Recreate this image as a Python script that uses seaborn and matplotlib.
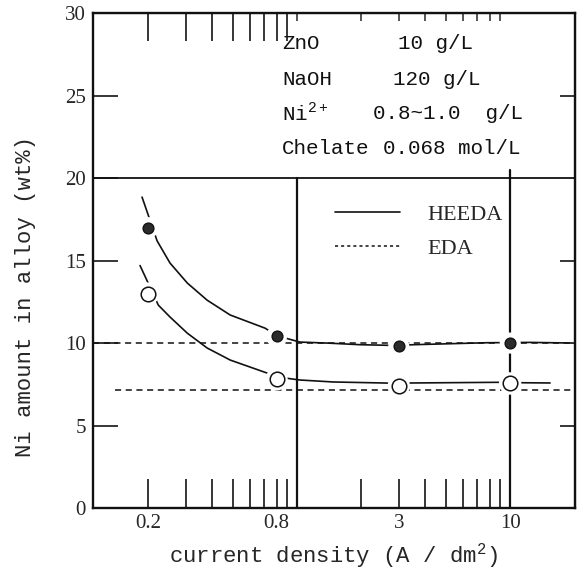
import numpy as np
import pandas as pd
import matplotlib
matplotlib.use("Agg")
import matplotlib.pyplot as plt
import seaborn as sns
from matplotlib.lines import Line2D
from matplotlib.ticker import FixedLocator, NullFormatter

# measured points (current density A/dm2, Ni wt%)
dens = [0.2, 0.8, 3, 10]
ni_filled = [17.0, 10.4, 9.8, 10.0]
ni_open = [13.0, 7.8, 7.4, 7.55]

# hand-drawn trend curves
curve_hi_x = [0.187, 0.22, 0.253, 0.305, 0.378, 0.485, 0.708, 0.8, 1.03, 1.38, 1.98, 3.0, 3.5, 7.8, 10, 12.4, 20]
curve_hi_y = [18.85, 16.2, 14.85, 13.64, 12.6, 11.7, 10.9, 10.45, 10.06, 10.0, 9.9, 9.85, 9.9, 10.02, 10.03, 10.04, 10.0]
curve_lo_x = [0.183, 0.223, 0.253, 0.305, 0.378, 0.485, 0.723, 0.8, 1.03, 1.48, 2.53, 3.0, 3.46, 8.7, 10, 15.4]
curve_lo_y = [14.7, 12.3, 11.58, 10.6, 9.7, 8.97, 8.18, 7.95, 7.76, 7.64, 7.58, 7.55, 7.58, 7.62, 7.6, 7.58]

# EDA dashed levels
eda_hi_x = [0.11, 20]
eda_hi_y = [10.0, 10.0]
eda_lo_x = [0.14, 20]
eda_lo_y = [7.15, 7.15]

sns.set_style("ticks")
plt.rcParams['font.family'] = ['Liberation Serif', 'DejaVu Serif']
plt.rcParams['mathtext.fontset'] = 'custom'
plt.rcParams['mathtext.rm'] = 'Liberation Mono'

fig = plt.figure(figsize=(5.81, 5.74), dpi=100)
ax = fig.add_axes([0.160, 0.115, 0.830, 0.862])
ax.set_xscale('log')

ink = '#111111'
sns.lineplot(x=curve_hi_x, y=curve_hi_y, ax=ax, color=ink, lw=1.2, sort=False, zorder=3)
sns.lineplot(x=curve_lo_x, y=curve_lo_y, ax=ax, color=ink, lw=1.2, sort=False, zorder=3)
sns.lineplot(x=eda_hi_x, y=eda_hi_y, ax=ax, color=ink, lw=1.1, zorder=3)
sns.lineplot(x=eda_lo_x, y=eda_lo_y, ax=ax, color=ink, lw=1.1, zorder=3)
for ln in ax.lines[2:4]:
    ln.set_linestyle((0, (4, 3)))

# frame lines at 20 wt% and at 1, 10 A/dm2
ax.axhline(20, color=ink, lw=1.3, zorder=2)
ax.axvline(1, ymin=0, ymax=20 / 30, color=ink, lw=1.6, zorder=2)
ax.axvline(10, ymin=0, ymax=20.5 / 30, color=ink, lw=1.6, zorder=2)

# white halos to break lines around the markers
sns.scatterplot(x=dens, y=ni_filled, ax=ax, s=230, color='white', edgecolor='none', zorder=4)
sns.scatterplot(x=dens, y=ni_open, ax=ax, s=260, color='white', edgecolor='none', zorder=4)
sns.scatterplot(x=dens, y=ni_filled, ax=ax, s=60, color='#2b2b2b', edgecolor=ink, linewidth=1, zorder=5)
sns.scatterplot(x=dens, y=ni_open, ax=ax, s=110, facecolor='white', edgecolor=ink, linewidth=1.1, zorder=5)

ax.set_xlim(0.11, 20.2)
ax.set_ylim(0, 30)

ax.xaxis.set_major_locator(FixedLocator(dens))
ax.set_xticklabels(['0.2', '0.8', '3', '10'])
ax.xaxis.set_minor_locator(FixedLocator([0.3, 0.4, 0.5, 0.6, 0.7, 0.9,
                                         2, 4, 5, 6, 7, 8, 9]))
ax.xaxis.set_minor_formatter(NullFormatter())
ax.tick_params(axis='x', which='major', direction='in', length=21, width=1.3, pad=4, labelsize=15)
ax.tick_params(axis='x', which='minor', direction='in', length=21, width=1.3, bottom=True, top=False)

ax.set_yticks([0, 5, 10, 15, 20, 25, 30])
ax.tick_params(axis='y', which='major', direction='in', length=18, width=1.3,
               left=True, right=False, labelsize=15, pad=5)

sec = ax.secondary_xaxis('top')
sec.xaxis.set_major_locator(FixedLocator([0.2, 0.3, 0.4, 0.5, 0.6, 0.7, 0.8, 0.9]))
sec.xaxis.set_minor_locator(FixedLocator([1, 2, 3, 4, 5, 6, 7, 8, 9]))
sec.xaxis.set_major_formatter(NullFormatter())
sec.xaxis.set_minor_formatter(NullFormatter())
sec.tick_params(which='major', direction='in', length=20, width=1.3)
sec.tick_params(which='minor', direction='in', length=6, width=1.1)

secy = ax.secondary_yaxis('right')
secy.set_yticks([5, 15, 25])
secy.yaxis.set_major_formatter(NullFormatter())
secy.tick_params(direction='in', length=11, width=1.3)

for sp in list(ax.spines.values()):
    sp.set_linewidth(1.7)
    sp.set_color(ink)

ax.set_xlabel('current density (A / dm$^{2}$)', fontfamily='Liberation Mono', fontsize=16)
ax.set_ylabel('Ni amount in alloy (wt%)', fontfamily='Liberation Mono', fontsize=16)
ax.xaxis.set_label_coords((333 - 93) / 482, (508 - 563) / 495)
ax.yaxis.set_label_coords((26 - 93) / 482, (508 - 296) / 495)
ax.xaxis.label.set_va('baseline')
ax.yaxis.label.set_va('center')

# bath composition block
def px(x, y):
    return (x - 93) / 482, (508 - y) / 495

mono = dict(fontfamily='Liberation Mono', fontsize=15, va='center', ha='left',
            transform=ax.transAxes, color=ink)
rows = [
    (43, 'ZnO', 398, '10 g/L'),
    (79, 'NaOH', 393, '120 g/L'),
    (113, 'Ni$^{2+}$', 373, '0.8~1.0  g/L'),
    (148, 'Chelate', 383, '0.068 mol/L'),
]
for y, name, xv, val in rows:
    ax.text(*px(282, y), name, **mono)
    ax.text(*px(xv, y), val, **mono)

handles = [Line2D([], [], color=ink, lw=1.2, ls='-'),
           Line2D([], [], color=ink, lw=1.1, ls=(0, (2, 2)))]
ax.legend(handles, ['HEEDA', 'EDA'], loc='upper left', bbox_to_anchor=px(315, 184),
          frameon=False, handlelength=2.9, handletextpad=1.25, labelspacing=0.6,
          prop={'family': 'Liberation Serif', 'size': 16})

fig.savefig('out.png', dpi=100)
